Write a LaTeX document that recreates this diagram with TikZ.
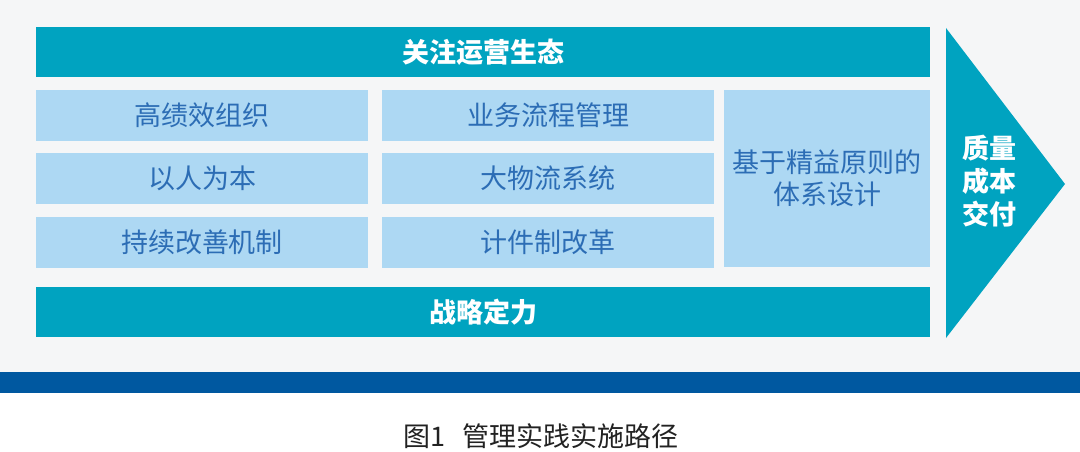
\documentclass[tikz,border=0pt]{standalone}
\usepackage{fontspec}
\setmainfont{Noto Sans CJK SC}
\usepackage{tikz}
\usetikzlibrary{shapes}
\definecolor{pagegray}{HTML}{F5F6F7}
\definecolor{bandblue}{HTML}{00A3C0}
\definecolor{cellblue}{HTML}{ADD8F3}
\definecolor{celltext}{HTML}{2C6DB5}
\definecolor{barblue}{HTML}{0058A0}
\definecolor{captext}{HTML}{222222}
\tikzstyle{band}=[fill=bandblue,text=white,font=\bfseries\fontsize{27}{33}\selectfont,minimum width=894pt,minimum height=50pt,inner sep=0pt]
\tikzstyle{cell}=[fill=cellblue,text=celltext,font=\fontsize{27}{32}\selectfont,minimum width=332pt,minimum height=51pt,inner sep=0pt]

\begin{document}
\begin{tikzpicture}[x=1pt,y=-1pt]
  \tikzset{bigcell/.style = {cell,minimum width=206pt,minimum height=177pt,align=center}}
  % page, gray panel and blue bar
  \fill[white] (0,0) rectangle (1080,452);
  \fill[pagegray] (0,0) rectangle (1080,372);
  \fill[barblue] (0,372) rectangle (1080,393);
  \node[band] (focus) at (483,52) {关注运营生态};
  \node[band] (strategy) at (483,312) {战略定力};
  \node[cell] (org) at (202,115.5) {高绩效组织};
  \node[cell] (people) at (202,178.5) {以人为本};
  \node[cell] (improve) at (202,242) {持续改善机制};
  \node[cell] (process) at (548,115.5) {业务流程管理};
  \node[cell] (logistics) at (548,178.5) {大物流系统};
  \node[cell] (piecework) at (548,242) {计件制改革};
  \node[bigcell] (lean) at (827,178.5) {基于精益原则的\\体系设计};
  % result arrow
  \coordinate (tiptop) at (946,28);
  \coordinate (tip) at (1065,184);
  \coordinate (tipbot) at (946,338);
  \fill[bandblue] (tiptop) -- (tip) -- (tipbot) -- cycle;
  \node[text=white,font=\bfseries\fontsize{27}{33}\selectfont,align=center,inner sep=0pt] (result) at (989,181) {质量\\成本\\交付};
  \node[text=captext,font=\fontsize{27}{32}\selectfont,inner sep=0pt] (caption) at (541,436) {图1\hspace{0.6em}管理实践实施路径};
\end{tikzpicture}
\end{document}
